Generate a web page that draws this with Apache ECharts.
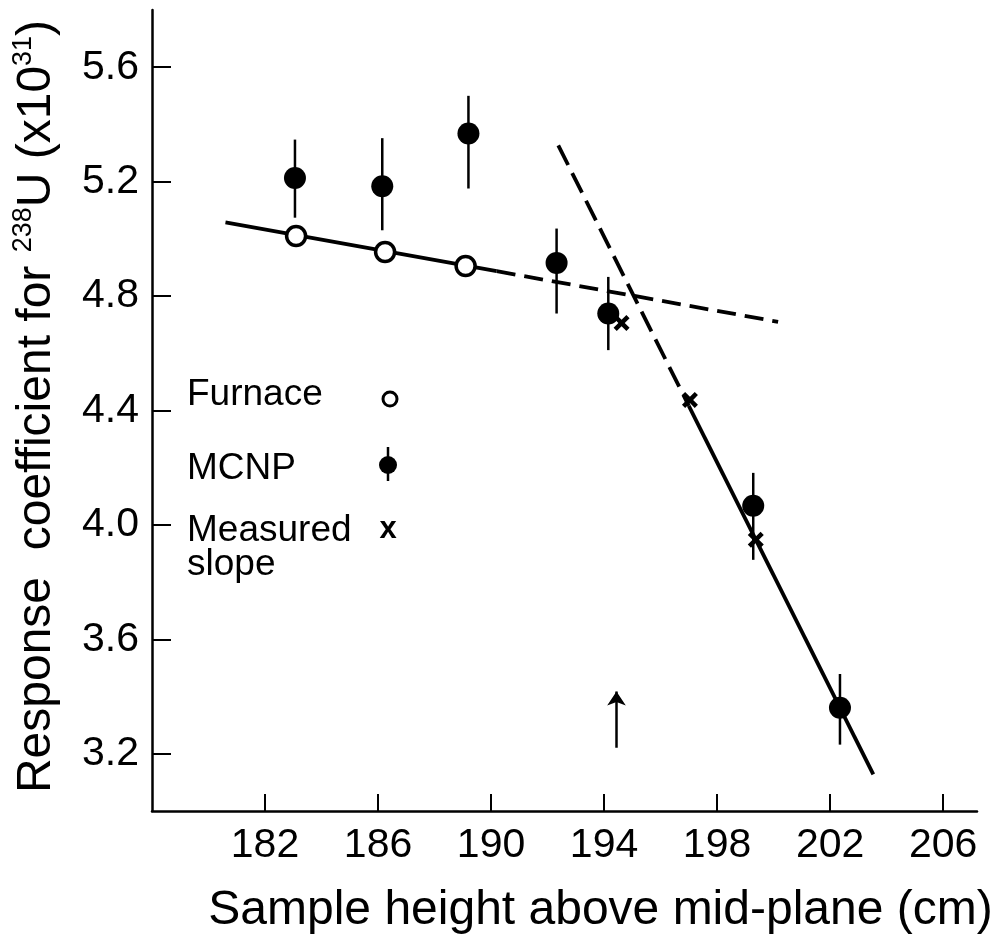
<!DOCTYPE html>
<html>
<head>
<meta charset="utf-8">
<script src="https://cdn.jsdelivr.net/npm/echarts@6/dist/echarts.min.js"></script>
<style>
html,body{margin:0;padding:0;background:#fff;}
#chart{width:996px;height:938px;}
</style>
</head>
<body>
<div id="chart"></div>
<script>
// ---- data ----
var xTicks = [182, 186, 190, 194, 198, 202, 206];
var yTicks = [3.2, 3.6, 4.0, 4.4, 4.8, 5.2, 5.6];

var furnaceX = [183.1, 186.25, 189.1];
var furnaceY = [5.01, 4.954, 4.905];

var mcnpX = [183.06, 186.15, 189.2, 192.32, 194.15, 199.28, 202.35];
var mcnpY = [5.213, 5.184, 5.368, 4.916, 4.739, 4.067, 3.361];
var mcnpLo = [5.074, 5.03, 5.176, 4.739, 4.611, 3.878, 3.232];
var mcnpHi = [5.347, 5.352, 5.50, 5.036, 4.867, 4.182, 3.479];

var measuredX = [194.62, 197.04, 199.37];
var measuredY = [4.706, 4.437, 3.948];

var furnaceFitSolidX = [180.6, 190.2];
var furnaceFitSolidY = [5.058, 4.887];
var furnaceFitDashX = [190.2, 200.16];
var furnaceFitDashY = [4.887, 4.71];

var steepDashX = [192.38, 197.0];
var steepDashY = [5.327, 4.416];
var steepSolidX = [197.0, 203.53];
var steepSolidY = [4.416, 3.128];

var arrowX = [194.44, 194.44];
var arrowY = [3.221, 3.418];

function pairs(xs, ys) { return xs.map(function (x, i) { return [x, ys[i]]; }); }

var FONT = 'Liberation Sans, Arial, Helvetica, sans-serif';
var chart = echarts.init(document.getElementById('chart'), null, { renderer: 'canvas' });

var xSymbolPath = 'path://M0,2 L2,0 L5,3 L8,0 L10,2 L7,5 L10,8 L8,10 L5,7 L2,10 L0,8 L3,5 Z';

var option = {
  backgroundColor: '#fff',
  animation: false,
  grid: { left: 152, right: 19, top: 10, bottom: 127, containLabel: false, outerBoundsMode: 'none' },
  xAxis: {
    type: 'value', min: 178, max: 207.2,
    axisLine: { show: true, lineStyle: { color: '#000', width: 2.5 } },
    axisTick: { show: true, inside: true, length: 17, lineStyle: { color: '#000', width: 2 }, customValues: xTicks },
    axisLabel: { customValues: xTicks, color: '#000', fontSize: 41, fontFamily: FONT, margin: 14 },
    splitLine: { show: false },
    name: 'Sample height above mid-plane (cm)',
    nameLocation: 'middle', nameGap: 76,
    nameTextStyle: { color: '#000', fontSize: 48, fontFamily: FONT, padding: [0, 0, 0, 72] }
  },
  yAxis: {
    type: 'value', min: 3.0, max: 5.8,
    axisLine: { show: true, lineStyle: { color: '#000', width: 2.5 } },
    axisTick: { show: true, inside: true, length: 19, lineStyle: { color: '#000', width: 2 }, customValues: yTicks },
    axisLabel: { customValues: yTicks, color: '#000', fontSize: 41, fontFamily: FONT, margin: 13,
      formatter: function (v) { return v.toFixed(1); } },
    splitLine: { show: false },
    name: '{a|Response  coefficient for }{s|238}{a|U (x10}{s|31}{a|)}',
    nameLocation: 'middle', nameGap: 88, nameRotate: 90,
    nameTextStyle: {
      color: '#000', fontSize: 48, fontFamily: FONT, padding: [0, 0, 0, 8],
      rich: {
        a: { fontSize: 48, fontFamily: FONT, color: '#000', lineHeight: 54 },
        s: { fontSize: 27, fontFamily: FONT, color: '#000', lineHeight: 54, verticalAlign: 'top' }
      }
    }
  },
  series: [
    { type: 'line', data: pairs(furnaceFitSolidX, furnaceFitSolidY), symbol: 'none',
      lineStyle: { color: '#000', width: 3.8 }, z: 2 },
    { type: 'line', data: pairs(furnaceFitDashX, furnaceFitDashY), symbol: 'none',
      lineStyle: { color: '#000', width: 3.8, type: [19, 9] }, z: 2 },
    { type: 'line', data: pairs(steepDashX, steepDashY), symbol: 'none',
      lineStyle: { color: '#000', width: 3.8, type: [22, 9] }, z: 2 },
    { type: 'line', data: pairs(steepSolidX, steepSolidY), symbol: 'none',
      lineStyle: { color: '#000', width: 3.8 }, z: 2 },
    { type: 'custom', z: 3,
      data: mcnpX.map(function (x, i) { return [x, mcnpLo[i], mcnpHi[i]]; }),
      renderItem: function (params, api) {
        var lo = api.coord([api.value(0), api.value(1)]);
        var hi = api.coord([api.value(0), api.value(2)]);
        return { type: 'line', shape: { x1: lo[0], y1: lo[1], x2: hi[0], y2: hi[1] },
          style: { stroke: '#000', lineWidth: 2.5 } };
      }
    },
    { type: 'scatter', data: pairs(mcnpX, mcnpY), symbol: 'circle', symbolSize: 22,
      itemStyle: { color: '#000', opacity: 1 }, z: 4 },
    { type: 'scatter', data: pairs(furnaceX, furnaceY), symbol: 'circle', symbolSize: 19,
      itemStyle: { color: '#fff', borderColor: '#000', borderWidth: 3.5, opacity: 1 }, z: 5 },
    { type: 'scatter', data: pairs(measuredX, measuredY), symbol: xSymbolPath, symbolSize: 16,
      itemStyle: { color: '#000', opacity: 1 }, z: 5 },
    { type: 'lines', coordinateSystem: 'cartesian2d', z: 3,
      symbol: ['none', 'arrow'], symbolSize: [0, 14],
      lineStyle: { color: '#000', width: 2.5, opacity: 1 },
      data: [{ coords: pairs(arrowX, arrowY) }] }
  ],
  graphic: [
    { type: 'text', left: 187, top: 376, style: { text: 'Furnace', font: '37px ' + FONT, fill: '#000' } },
    { type: 'text', left: 187, top: 450, style: { text: 'MCNP', font: '37px ' + FONT, fill: '#000' } },
    { type: 'text', left: 187, top: 512, style: { text: 'Measured', font: '37px ' + FONT, fill: '#000' } },
    { type: 'text', left: 187, top: 546, style: { text: 'slope', font: '37px ' + FONT, fill: '#000' } },
    { type: 'circle', shape: { cx: 390, cy: 399, r: 7 }, style: { fill: '#fff', stroke: '#000', lineWidth: 3 } },
    { type: 'line', shape: { x1: 388, y1: 447, x2: 388, y2: 481 }, style: { stroke: '#000', lineWidth: 2.5 } },
    { type: 'circle', shape: { cx: 388, cy: 465, r: 9 }, style: { fill: '#000' } },
    { type: 'text', x: 388, y: 529, style: { text: 'x', font: 'bold 31px ' + FONT, fill: '#000', align: 'center', verticalAlign: 'middle' } }
  ]
};
chart.setOption(option);
</script>
</body>
</html>
